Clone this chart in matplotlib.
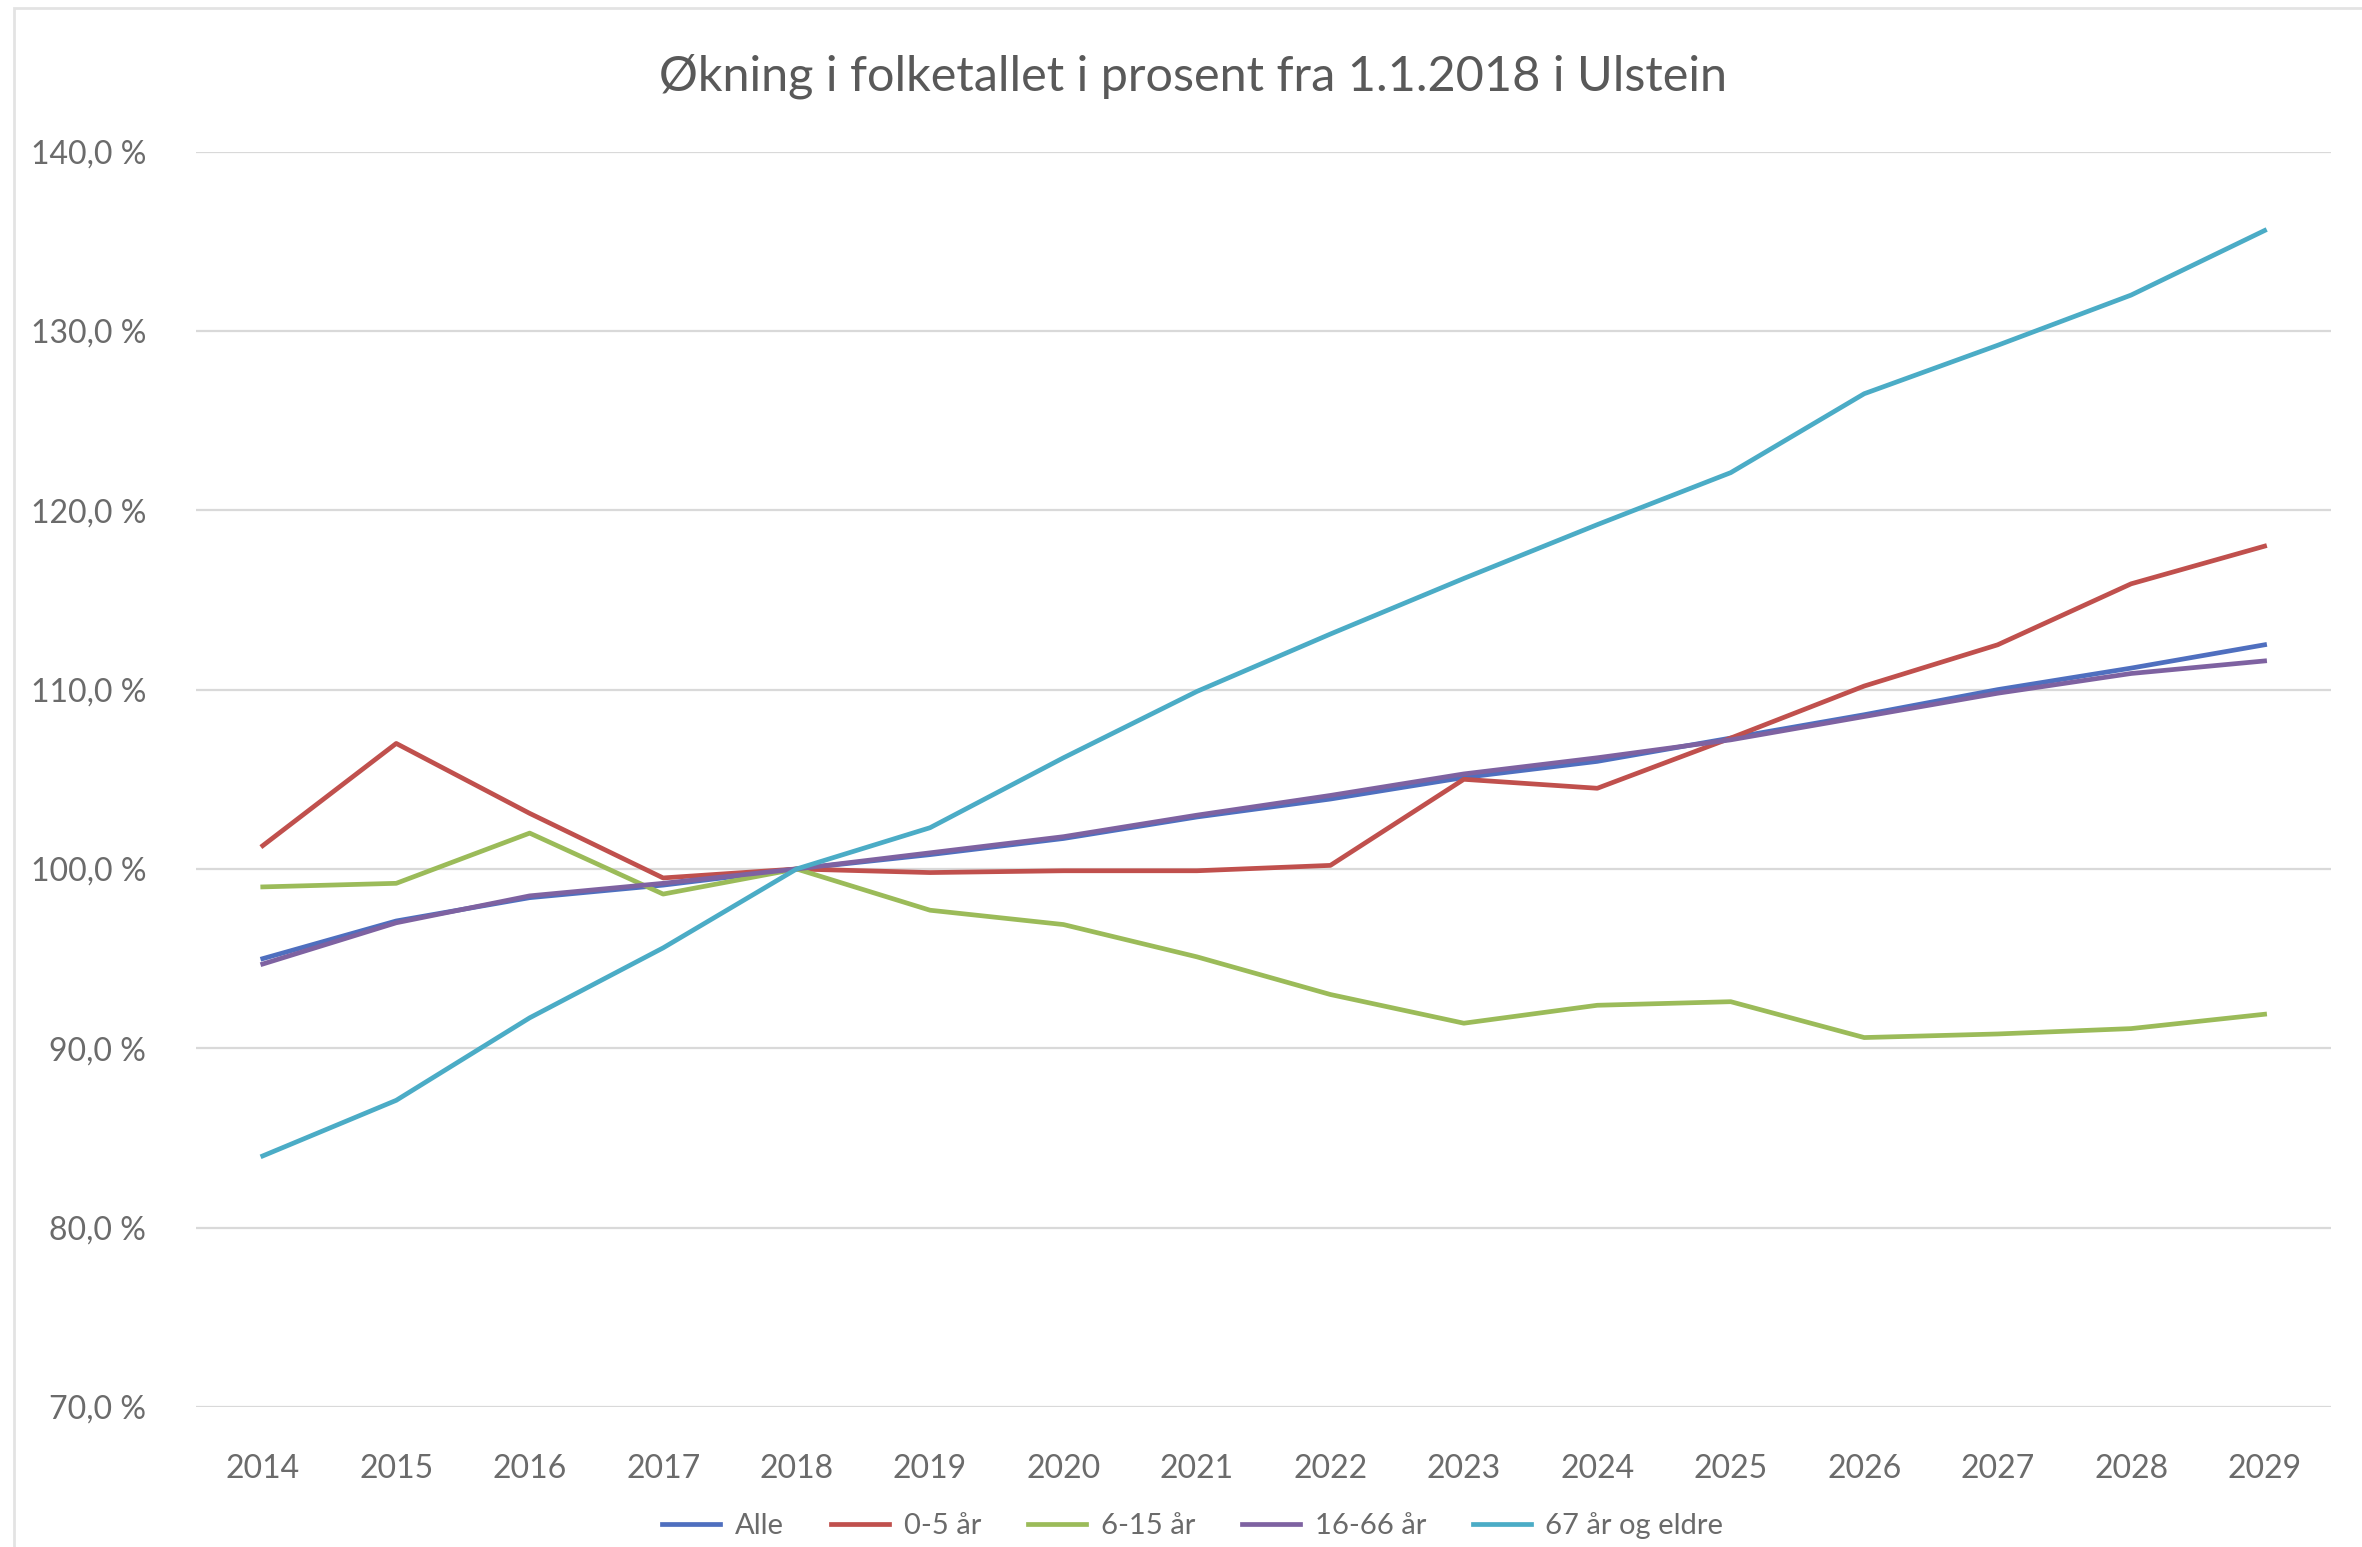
import matplotlib.pyplot as plt
from matplotlib.ticker import FuncFormatter, MultipleLocator

# Befolkningsutvikling Ulstein, indeks 1.1.2018 = 100 %
aar = ["2014", "2015", "2016", "2017", "2018", "2019", "2020", "2021",
       "2022", "2023", "2024", "2025", "2026", "2027", "2028", "2029"]

alle = [95.0, 97.1, 98.4, 99.1, 100.0, 100.8, 101.7, 102.9,
        103.9, 105.1, 106.0, 107.3, 108.6, 110.0, 111.2, 112.5]
aar_0_5 = [101.3, 107.0, 103.1, 99.5, 100.0, 99.8, 99.9, 99.9,
           100.2, 105.0, 104.5, 107.3, 110.2, 112.5, 115.9, 118.0]
aar_6_15 = [99.0, 99.2, 102.0, 98.6, 100.0, 97.7, 96.9, 95.1,
            93.0, 91.4, 92.4, 92.6, 90.6, 90.8, 91.1, 91.9]
aar_16_66 = [94.7, 97.0, 98.5, 99.2, 100.0, 100.9, 101.8, 103.0,
             104.1, 105.3, 106.2, 107.2, 108.5, 109.8, 110.9, 111.6]
aar_67_pluss = [84.0, 87.1, 91.7, 95.6, 100.0, 102.3, 106.2, 109.9,
                113.1, 116.2, 119.2, 122.1, 126.5, 129.2, 132.0, 135.6]

serier = [
    ("Alle", alle, "#4F6FBF"),
    ("0-5 år", aar_0_5, "#C0504D"),
    ("6-15 år", aar_6_15, "#9BBB59"),
    ("16-66 år", aar_16_66, "#7E62A1"),
    ("67 år og eldre", aar_67_pluss, "#4BACC6"),
]

plt.rcParams["font.family"] = ["Lato", "DejaVu Sans"]
tekstfarge = "#595959"
aksefarge = "#6B6B6B"

fig = plt.figure(figsize=(23.62, 15.47), dpi=100)
ax = fig.add_axes([0.083, 0.0905, 0.904, 0.8115])

x = list(range(len(aar)))
for navn, verdier, farge in serier:
    ax.plot(x, verdier, color=farge, linewidth=3.4, label=navn,
            solid_joinstyle="round")

ax.set_xlim(-0.5, len(aar) - 0.5)
ax.set_ylim(70, 140)
ax.set_xticks(x)
ax.set_xticklabels(aar)
ax.yaxis.set_major_locator(MultipleLocator(10))
ax.yaxis.set_major_formatter(FuncFormatter(lambda v, _: f"{v:.1f} %".replace(".", ",")))

ax.grid(axis="y", color="#D9D9D9", linewidth=1.6)
ax.set_axisbelow(True)
for side in ["top", "right", "left", "bottom"]:
    ax.spines[side].set_visible(False)
ax.tick_params(axis="both", length=0, labelsize=23, labelcolor=aksefarge)
ax.tick_params(axis="y", pad=36)
ax.tick_params(axis="x", pad=34)

fig.text(0.505, 0.951, "Økning i folketallet i prosent fra 1.1.2018 i Ulstein",
         ha="center", va="center", fontsize=35, color=tekstfarge)

fig.legend(loc="center", bbox_to_anchor=(0.505, 0.014), ncol=5, frameon=False,
           fontsize=21, labelcolor=aksefarge, handlelength=2.0, columnspacing=1.6,
           handletextpad=0.5)

# tynn ramme rundt diagramområdet
fig.patches.append(plt.Rectangle((0.006, -0.1), 1.2, 1.095, transform=fig.transFigure,
                                 fill=False, edgecolor="#E3E3E3", linewidth=2))

fig.savefig("out.png", dpi=100, facecolor="white")
